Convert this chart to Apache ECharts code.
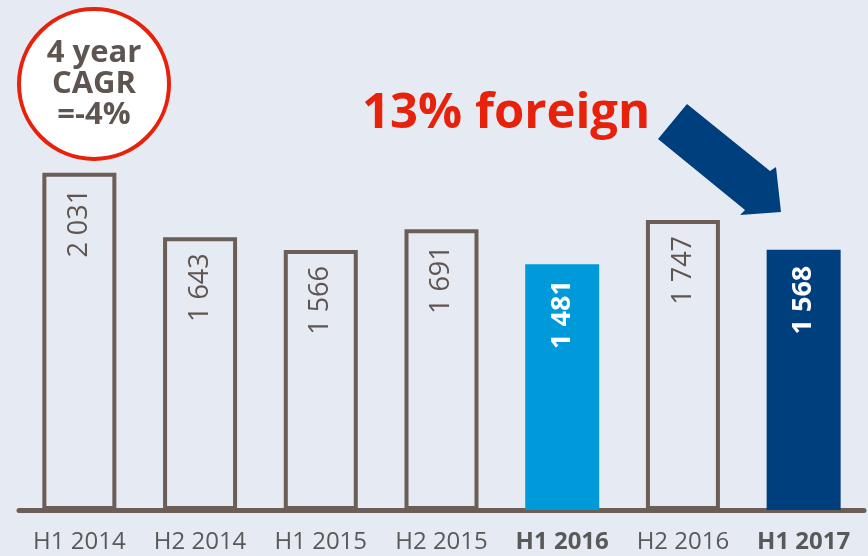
<!DOCTYPE html>
<html>
<head>
<meta charset="utf-8">
<script src="https://cdn.jsdelivr.net/npm/echarts@6/dist/echarts.min.js"></script>
<style>
  html, body { margin: 0; padding: 0; background: #e6ebf3; }
  #chart { width: 868px; height: 556px; }
</style>
</head>
<body>
<div id="chart"></div>
<script>
var periods = ['H1 2014', 'H2 2014', 'H1 2015', 'H2 2015', 'H1 2016', 'H2 2016', 'H1 2017'];
var values = [2031, 1643, 1566, 1691, 1481, 1747, 1568];
var highlighted = ['H1 2016', 'H1 2017'];
var fills = { 'H1 2016': '#0099da', 'H1 2017': '#003f7d' };

var outline = '#6b5e57';
var textGray = '#5f5550';
var red = '#e8210a';
var navy = '#003f7d';

function fmt(v) {
    var s = String(v);
    return s.length > 3 ? s.slice(0, s.length - 3) + ' ' + s.slice(-3) : s;
}

var barData = values.map(function(v, i) {
    var p = periods[i];
    if (fills[p]) {
        return {
            value: v,
            itemStyle: { color: fills[p], borderWidth: 0 },
            label: { color: '#fff', fontWeight: 'bold' }
        };
    }
    return v;
});

var chart = echarts.init(document.getElementById('chart'));

chart.setOption({
    backgroundColor: '#e6ebf3',
    animation: false,
    grid: { left: 19, right: 4, top: 12, bottom: 46 },
    xAxis: {
        type: 'category',
        data: periods,
        axisLine: { lineStyle: { color: outline, width: 5 } },
        axisTick: { show: false },
        axisLabel: {
            interval: 0,
            hideOverlap: false,
            margin: 20,
            fontFamily: 'Open Sans',
            fontSize: 24,
            color: '#595959',
            formatter: function(v) {
                return highlighted.indexOf(v) >= 0 ? '{b|' + v + '}' : v;
            },
            rich: { b: { fontFamily: 'Open Sans', fontSize: 24, fontWeight: 'bold', color: '#595959' } }
        }
    },
    yAxis: {
        type: 'value',
        min: 0,
        max: 3000,
        show: false,
        splitLine: { show: false }
    },
    series: [{
        type: 'bar',
        data: barData,
        barWidth: 74,
        itemStyle: { color: 'rgba(0,0,0,0)', borderColor: outline, borderWidth: 4 },
        label: {
            show: true,
            position: 'insideTop',
            distance: 16,
            rotate: 90,
            align: 'right',
            verticalAlign: 'middle',
            fontFamily: 'Open Sans',
            fontSize: 27,
            color: textGray,
            formatter: function(p) { return fmt(p.value); }
        }
    }],
    graphic: [
        {
            type: 'circle',
            shape: { cx: 94, cy: 84, r: 75 },
            style: { fill: '#fff', stroke: red, lineWidth: 4 }
        },
        {
            type: 'text',
            x: 94, y: 84,
            style: {
                text: '4 year\nCAGR\n=-4%',
                x: 0, y: 0,
                align: 'center',
                verticalAlign: 'middle',
                fontFamily: 'Open Sans',
                fontWeight: 'bold',
                fontSize: 31,
                lineHeight: 31,
                fill: textGray
            }
        },
        {
            type: 'text',
            x: 362, y: 114,
            style: {
                text: '13% foreign',
                verticalAlign: 'middle',
                fontFamily: 'Open Sans',
                fontWeight: 'bold',
                fontSize: 49,
                fill: red
            }
        },
        {
            type: 'polygon',
            shape: {
                points: [[687, 104], [770, 171], [776, 167], [781, 212], [740, 215], [745, 210], [658, 139]]
            },
            style: { fill: navy }
        }
    ]
});
</script>
</body>
</html>
